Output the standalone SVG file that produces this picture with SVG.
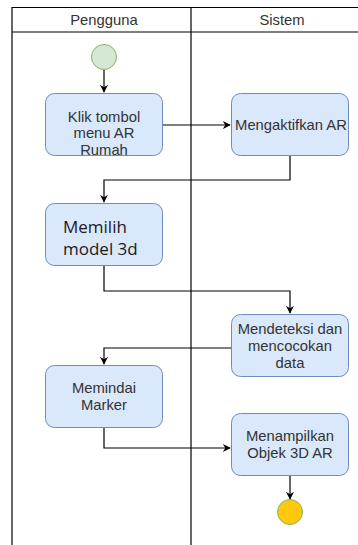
<svg xmlns="http://www.w3.org/2000/svg" width="358" height="545" viewBox="0 0 358 545">
<style>
.lane{fill:none;stroke:#000;stroke-width:1.2}
.box{fill:#dae8fc;stroke:#6c8ebf;stroke-width:1}
.t{font-family:"Liberation Sans",Arial,sans-serif;font-size:14.8px;fill:#333;text-anchor:middle}
.t2{font-family:"Open Sans","Noto Sans",sans-serif;font-size:17px;fill:#1a1a1a}
.c{fill:none;stroke:#000;stroke-width:1.2;marker-end:url(#ah)}
</style>
<defs>
<marker id="ah" viewBox="0 0 10 10" refX="9" refY="5" markerWidth="8" markerHeight="8" markerUnits="userSpaceOnUse" orient="auto">
<path d="M0,0 L10,5 L0,10 L3,5 Z" fill="#000"/>
</marker>
</defs>
<rect x="0" y="0" width="358" height="545" fill="#fff"/>
<g id="lanes">
<line class="lane" x1="12" y1="7.5" x2="358" y2="7.5"/>
<line class="lane" x1="12" y1="32" x2="358" y2="32"/>
<line class="lane" x1="12" y1="7" x2="12" y2="545"/>
<line class="lane" x1="191" y1="7" x2="191" y2="545"/>
<text class="t" x="104" y="25">Pengguna</text>
<text class="t" x="282" y="25">Sistem</text>
</g>
<g id="connectors">
<path class="c" d="M104,70 V92"/>
<path class="c" d="M163,125 H230"/>
<path class="c" d="M290,155 V180 H104 V202"/>
<path class="c" d="M104,266 V291 H290 V313"/>
<path class="c" d="M231,348 H104 V364"/>
<path class="c" d="M104,427 V448 H230"/>
<path class="c" d="M290,475 V499"/>
</g>
<g id="start"><circle cx="104" cy="57" r="12.5" fill="#d5e8d4" stroke="#82b366" stroke-width="1"/></g>
<g id="n1"><rect class="box" x="45.5" y="93.5" width="117" height="62" rx="9"/>
<text class="t" x="104" y="122">Klik tombol</text><text class="t" x="104" y="138">menu AR</text><text class="t" x="104" y="155">Rumah</text></g>
<g id="n2"><rect class="box" x="231.5" y="93.5" width="117" height="62" rx="9"/>
<text class="t" x="291" y="130">Mengaktifkan AR</text></g>
<g id="n3"><rect class="box" x="45.5" y="203.5" width="117" height="62" rx="9"/>
<text class="t2" x="63" y="233">Memilih</text><text class="t2" x="63" y="255">model 3d</text></g>
<g id="n4"><rect class="box" x="231.5" y="314.5" width="117" height="62" rx="9"/>
<text class="t" x="290" y="334">Mendeteksi dan</text><text class="t" x="290" y="351">mencocokan</text><text class="t" x="290" y="368">data</text></g>
<g id="n5"><rect class="box" x="45.5" y="365.5" width="117" height="62" rx="9"/>
<text class="t" x="104" y="393">Memindai</text><text class="t" x="104" y="410">Marker</text></g>
<g id="n6"><rect class="box" x="231.5" y="413.5" width="117" height="62" rx="9"/>
<text class="t" x="290" y="441">Menampilkan</text><text class="t" x="290" y="458">Objek 3D AR</text></g>
<g id="end"><circle cx="290" cy="512" r="12.5" fill="#ffc80a" stroke="#82b366" stroke-width="1"/></g>
</svg>
